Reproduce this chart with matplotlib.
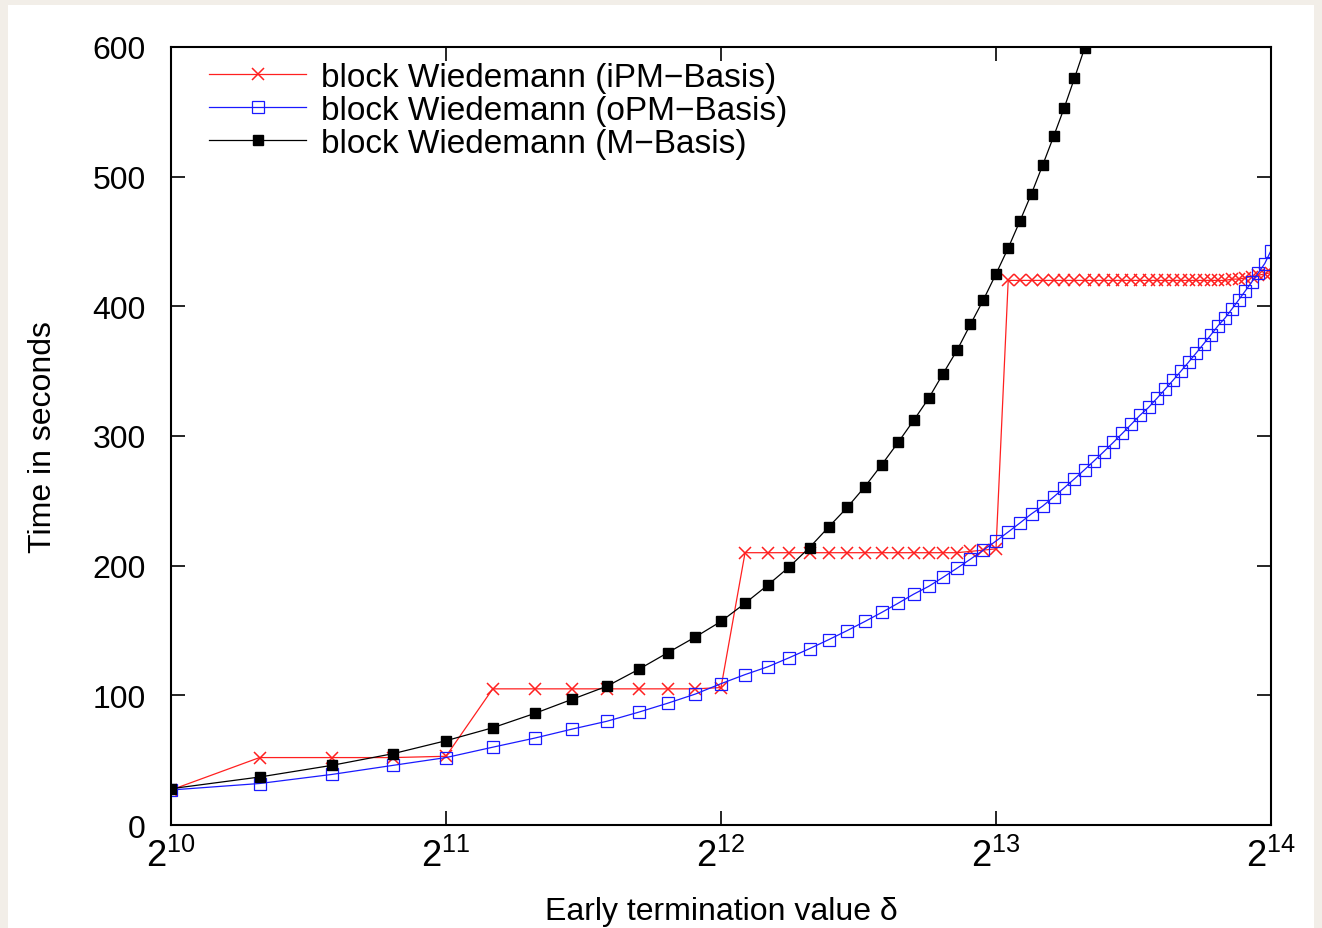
import matplotlib
matplotlib.use("Agg")
from matplotlib import pyplot as plt
from matplotlib.patches import Rectangle

plt.rcParams["font.family"] = ["Liberation Sans", "DejaVu Sans"]
plt.rcParams["mathtext.fontset"] = "custom"
plt.rcParams["mathtext.rm"] = "Liberation Sans"

# delta values: multiples of 256 from 2^10 to 2^14
delta = [256 * k for k in range(4, 65)]

ipm = [27, 52, 52, 52, 53,
       105, 105, 105, 105, 105, 105, 105, 106,
       210, 210, 210, 210, 210, 210, 210, 210,
       210, 210, 210, 210, 210, 211, 212, 213,
       420, 420, 420, 420, 420, 420, 420, 420,
       420, 420, 420, 420, 420, 420, 420, 420,
       420, 420, 420, 420, 420, 420, 420, 420,
       420, 421, 421, 422, 423, 424, 425, 426]

opm = [27, 32, 39, 46, 52, 60, 67, 74, 80, 87, 94, 101, 109,
       116, 122, 129, 136, 143, 150, 157, 164, 171, 178, 184, 191,
       198, 205, 212, 219, 226, 233, 240, 246, 253, 260, 267, 274,
       281, 288, 295, 302, 309, 316, 322, 329, 336, 343, 350, 357,
       364, 371, 378, 385, 391, 398, 405, 412, 419, 426, 433, 443]

mbasis = [28, 37, 46, 55, 65, 75, 86, 97, 107, 120, 133, 145, 157,
          171, 185, 199, 214, 230, 245, 261, 278, 295, 312, 329, 348,
          366, 386, 405, 425, 445, 466, 487, 509, 531, 553, 576, 599]

fig = plt.figure(figsize=(13.22, 9.29), dpi=100)
fig.patch.set_facecolor("#f2eee8")
fig.patches.append(Rectangle((8 / 1322, 0), (1314 - 8) / 1322, 1 - 6 / 929,
                             transform=fig.transFigure, facecolor="white",
                             edgecolor="none", zorder=-10))

ax = fig.add_axes([171 / 1322, 1 - 826 / 929, 1100 / 1322, 778 / 929])

ax.plot(delta, ipm, color="#ff2020", lw=0.9, marker="x", ms=8.5, mew=1.1,
        label="block Wiedemann (iPM\u2212Basis)")
ax.plot(delta, opm, color="#1a1aff", lw=0.9, marker="s", ms=8.5, mew=0.9,
        mfc="none", label="block Wiedemann (oPM\u2212Basis)")
ax.plot(delta[:len(mbasis)], mbasis, color="black", lw=0.9, marker="s",
        ms=7.8, label="block Wiedemann (M\u2212Basis)")

ax.set_xscale("log", base=2)
ax.set_xlim(2 ** 10, 2 ** 14)
ax.set_ylim(0, 600)
xt = [2 ** e for e in range(10, 15)]
ax.set_xticks(xt)
ax.set_xticklabels([r"$\mathregular{2^{%d}}$" % e for e in range(10, 15)])
ax.minorticks_off()
ax.set_yticks(range(0, 601, 100))

ax.tick_params(direction="in", length=10, width=1.2, top=True, right=True,
               colors="black")
ax.tick_params(axis="x", pad=9, labelsize=26)
ax.tick_params(axis="y", pad=18, labelsize=23)
for sp in ax.spines.values():
    sp.set_linewidth(1.5)

ax.set_xlabel("Early termination value \u03b4", fontsize=23, labelpad=16)
ax.set_ylabel("Time in seconds", fontsize=23, labelpad=25)

ax.legend(loc="upper left", bbox_to_anchor=(0.035, 0.981), frameon=False,
          fontsize=24, handlelength=2.9, handletextpad=0.45, labelspacing=0.06,
          borderpad=0, borderaxespad=0)

fig.savefig("out.png", dpi=100)
